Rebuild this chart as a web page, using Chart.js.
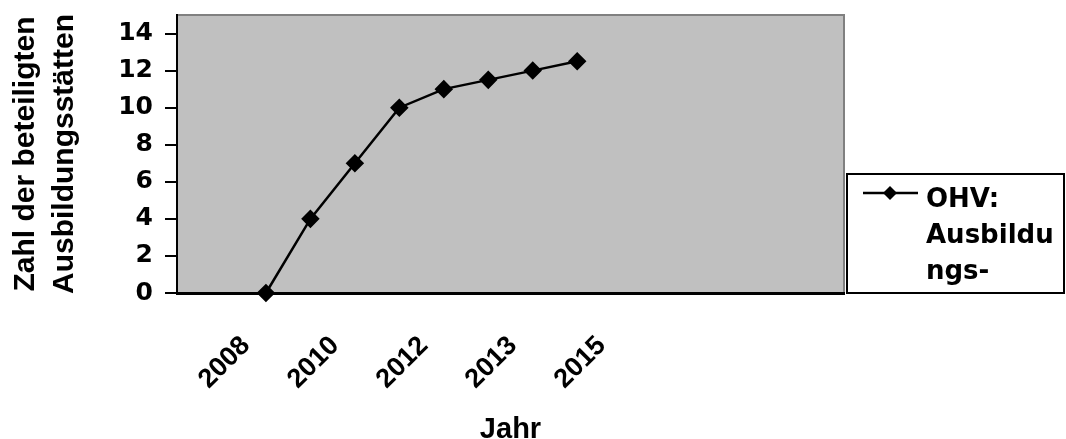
<!DOCTYPE html>
<html>
<head>
<meta charset="utf-8">
<script src="https://cdn.jsdelivr.net/npm/chart.js@4"></script>
<style>
  html, body { margin: 0; padding: 0; background: #fff; }
  #wrap { width: 1066px; height: 439px; }
</style>
</head>
<body>
<div id="wrap"><canvas id="chart" width="1066" height="439"></canvas></div>
<script>
  // categories on the x axis (Excel shows every second label)
  const categories = ["", "", "2008", "", "2010", "", "2012", "", "2013", "", "2015", "", "", "", "", ""];
  // number of participating training sites
  const ausbildungsstaetten = [null, null, 0, 4, 7, 10, 11, 11.5, 12, 12.5, null, null, null, null, null, null];
  const seriesLabel = "OHV: Ausbildungs-";
  const legendLines = ["OHV:", "Ausbildu", "ngs-"];
  const yTitle = ["Zahl der beteiligten", "Ausbildungsstätten"];
  const xTitle = "Jahr";

  const ARIAL = "'Liberation Sans', Arial, sans-serif";
  const WIDE = "'DejaVu Sans', 'Liberation Sans', sans-serif";

  // grey plot area with grey frame on top/right
  const plotBackground = {
    id: "plotBackground",
    beforeDraw(chart) {
      const { ctx, chartArea: a } = chart;
      ctx.save();
      ctx.fillStyle = "#c0c0c0";
      ctx.fillRect(a.left, a.top, a.right - a.left, a.bottom - a.top);
      ctx.strokeStyle = "#808080";
      ctx.lineWidth = 2;
      ctx.beginPath();
      ctx.moveTo(a.left, a.top);
      ctx.lineTo(a.right, a.top);
      ctx.lineTo(a.right, a.bottom);
      ctx.stroke();
      ctx.restore();
    }
  };

  // boxed legend to the right, bottom aligned with the plot
  const boxLegend = {
    id: "boxLegend",
    afterDraw(chart) {
      const { ctx, chartArea: a } = chart;
      const left = a.right + 3, right = 1064, bottom = a.bottom, top = 174;
      ctx.save();
      ctx.fillStyle = "#fff";
      ctx.fillRect(left, top, right - left, bottom - top);
      ctx.strokeStyle = "#000";
      ctx.lineWidth = 2;
      ctx.strokeRect(left, top, right - left, bottom - top);

      const ly = top + 19;
      ctx.lineWidth = 2.5;
      ctx.beginPath();
      ctx.moveTo(left + 16, ly);
      ctx.lineTo(left + 71, ly);
      ctx.stroke();
      const cx = left + 43, r = 7;
      ctx.fillStyle = "#000";
      ctx.beginPath();
      ctx.moveTo(cx, ly - r);
      ctx.lineTo(cx + r, ly);
      ctx.lineTo(cx, ly + r);
      ctx.lineTo(cx - r, ly);
      ctx.closePath();
      ctx.fill();

      ctx.font = "bold 26px " + WIDE;
      ctx.textBaseline = "alphabetic";
      legendLines.forEach((t, i) => {
        ctx.fillText(t, left + 79, top + 33 + i * 36);
      });
      ctx.restore();
    }
  };

  new Chart(document.getElementById("chart"), {
    type: "line",
    data: {
      labels: categories,
      datasets: [{
        label: seriesLabel,
        data: ausbildungsstaetten,
        borderColor: "#000",
        backgroundColor: "#000",
        borderWidth: 2.5,
        pointStyle: "rectRot",
        pointRadius: 7.5,
        pointBackgroundColor: "#000",
        pointBorderColor: "#000",
        tension: 0,
        clip: false
      }]
    },
    options: {
      responsive: false,
      animation: false,
      layout: { padding: { top: 0, right: 222, left: 0, bottom: 0 } },
      plugins: {
        legend: { display: false },
        tooltip: { enabled: false }
      },
      scales: {
        x: {
          type: "category",
          offset: false,
          grid: { display: false, drawTicks: false },
          border: { color: "#000", width: 3 },
          ticks: {
            autoSkip: false,
            maxRotation: 45,
            minRotation: 45,
            padding: 37,
            labelOffset: -20,
            color: "#000",
            font: { family: ARIAL, size: 27, weight: "bold" }
          },
          title: {
            display: true,
            text: xTitle,
            color: "#000",
            font: { family: ARIAL, size: 29, weight: "bold", lineHeight: 1 },
            padding: { top: 0, bottom: -5 }
          },
          afterFit(scale) { scale.height = 146; }
        },
        y: {
          min: 0,
          max: 15,
          grid: { display: true, drawOnChartArea: false, drawTicks: true, tickLength: 12, color: "#000", lineWidth: 2 },
          border: { color: "#000", width: 2 },
          ticks: {
            stepSize: 2,
            includeBounds: false,
            padding: 12,
            color: "#000",
            font: { family: WIDE, size: 25, weight: "bold" }
          },
          title: {
            display: true,
            text: yTitle,
            color: "#000",
            font: { family: ARIAL, size: 30, weight: "bold", lineHeight: 1.3 },
            padding: { top: 6, bottom: 0 }
          },
          afterFit(scale) {
            scale.width = 177;
            scale.paddingTop = 15;
            scale.paddingBottom = 0;
          }
        }
      }
    },
    plugins: [plotBackground, boxLegend]
  });
</script>
</body>
</html>
